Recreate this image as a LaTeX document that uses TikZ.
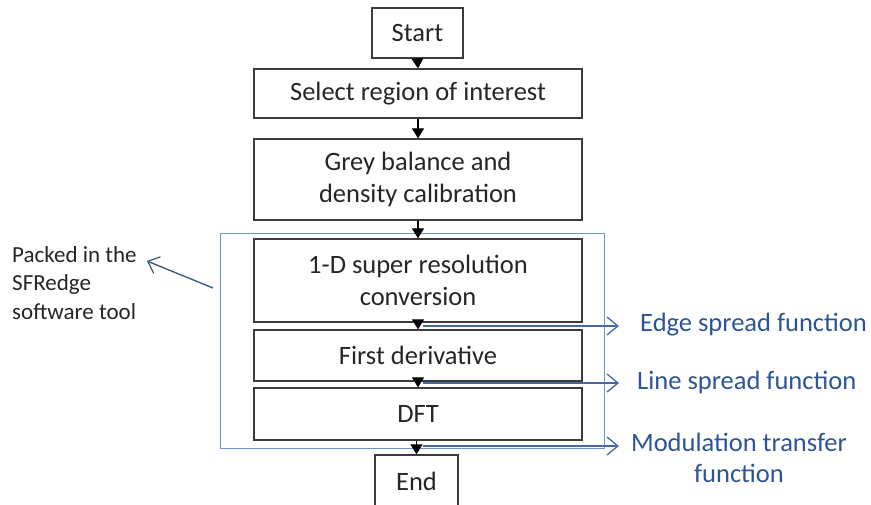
\documentclass[tikz,border=0pt]{standalone}
\usepackage{fontspec}
\setmainfont{Carlito}
\usetikzlibrary{arrows.meta}
\definecolor{boxline}{RGB}{60,60,60}
\definecolor{frameblue}{RGB}{110,150,200}
\definecolor{txtblue}{RGB}{45,85,150}
\definecolor{arrblue}{RGB}{70,105,165}
\begin{document}
\begin{tikzpicture}[x=1pt,y=-1pt,
  stepbox/.style={draw=boxline,line width=1.3pt,fill=white,inner sep=0pt,align=center,font=\fontsize{26.5}{32}\selectfont,text=black!85},
  flow/.style={draw=black,line width=1.2pt,-{Triangle[width=12pt,length=10pt]}},
  bluearr/.style={draw=arrblue,line width=1.8pt,-{Straight Barb[length=11pt,width=18pt,line width=1.3pt]}},
  bluelab/.style={font=\fontsize{26.5}{31}\selectfont,text=txtblue,inner sep=0pt,align=center}]
\useasboundingbox (0,0) rectangle (871,504);
\fill[white] (0,0) rectangle (871,504);
\draw[frameblue,line width=1pt] (220,233) rectangle (604,448);
\node[stepbox,minimum width=91pt,minimum height=50pt] (start) at (417.5,33) {Start};
\node[stepbox,minimum width=328pt,minimum height=49pt] (roi) at (418,93.5) {Select region of interest};
\node[stepbox,minimum width=328pt,minimum height=81pt] (grey) at (418,179.5) {Grey balance and\\density calibration};
\node[stepbox,minimum width=328pt,minimum height=83pt] (sr) at (418,280.5) {1-D super resolution\\conversion};
\node[stepbox,minimum width=328pt,minimum height=51pt] (fd) at (418,355.5) {First derivative};
\node[stepbox,minimum width=328pt,minimum height=52pt] (dft) at (418,414) {DFT};
\node[stepbox,minimum width=83pt,minimum height=52pt] (end) at (416.5,481) {End};
\draw[flow] (start.south) -- (roi.north);
\draw[flow] (roi.south) -- (grey.north);
\draw[flow] (grey.south) -- (sr.north);
\draw[flow] (sr.south) -- (fd.north);
\draw[flow] (fd.south) -- (dft.north);
\draw[flow] (dft.south -| end.north) -- (end.north);
\coordinate (e1) at (423,326);
\coordinate (e2) at (423,383);
\coordinate (e3) at (423,446);
\node[bluelab,anchor=west] (esf) at (640,325) {Edge spread function};
\node[bluelab,anchor=west] (lsf) at (637,382) {Line spread function};
\node[bluelab] (mtf) at (739,458) {Modulation transfer\\function};
\draw[bluearr] (e1) -- (619,326);
\draw[bluearr] (e2) -- (619,383);
\draw[bluearr] (e3) -- (619,446);
\node[font=\fontsize{23}{28.5}\selectfont,text=black!85,align=left,anchor=north west,inner sep=0pt] (packed) at (12,246) {Packed in the\\SFRedge\\software tool};
\coordinate (pf) at (213,288);
\draw[draw=arrblue!80!black,line width=1.3pt,-{Straight Barb[length=10pt,width=18pt,line width=1.2pt]}] (pf) -- (147,261);
\end{tikzpicture}
\end{document}
